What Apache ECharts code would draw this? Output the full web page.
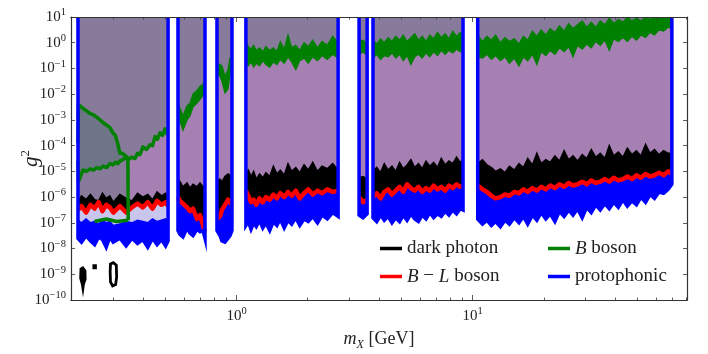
<!DOCTYPE html>
<html>
<head>
<meta charset="utf-8">
<script src="https://cdn.jsdelivr.net/npm/echarts@6/dist/echarts.min.js"></script>
<style>
html, body { margin: 0; padding: 0; background: #fff; }
#chart { width: 708px; height: 354px; }
</style>
</head>
<body>
<div id="chart"></div>
<script>
// mass windows (GeV) where the search gives limits
var windows = [[0.2126, 0.512], [0.564, 0.734], [0.825, 0.955], [1.094, 2.69], [3.30, 3.57], [3.78, 9.1], [10.5, 69.8]]

// sample masses per window (GeV)
var massGrid = [
  [0.2126, 0.22, 0.23, 0.24, 0.25, 0.26, 0.27, 0.28, 0.29, 0.30, 0.32, 0.34, 0.36, 0.38, 0.40, 0.42, 0.44, 0.46, 0.48, 0.50, 0.512],
  [0.564, 0.575, 0.592, 0.616, 0.634, 0.653, 0.679, 0.699, 0.72, 0.734],
  [0.825, 0.85, 0.866, 0.892, 0.919, 0.937, 0.955],
  [1.094, 1.12, 1.15, 1.18, 1.21, 1.25, 1.29, 1.33, 1.38, 1.43, 1.48, 1.53, 1.59, 1.65, 1.71, 1.78, 1.85, 1.93, 2.01, 2.1, 2.2, 2.3, 2.42, 2.55, 2.69],
  [3.30, 3.43, 3.57],
  [3.78, 3.92, 4.07, 4.22, 4.38, 4.55, 4.72, 4.9, 5.08, 5.27, 5.47, 5.68, 5.89, 6.11, 6.34, 6.58, 6.83, 7.09, 7.36, 7.64, 7.93, 8.23, 8.54, 8.85, 9.1],
  [10.5, 11.0, 11.5, 12.0, 12.5, 13.1, 13.7, 14.3, 15.0, 15.7, 16.4, 17.1, 17.9, 18.7, 19.5, 20.4, 21.3, 22.3, 23.3, 24.4, 25.5, 26.6, 27.8, 29.1, 30.4, 31.8, 33.2, 34.7, 36.3, 37.9, 39.6, 41.4, 43.3, 45.2, 47.3, 49.4, 51.6, 54.0, 56.4, 58.9, 61.6, 64.4, 67.3, 69.8]
]

// log10(g^2) limits
var darkPhotonTop = [
  [-6.15, -5.95, -6.1, -5.9, -6.1, -6.15, -5.85, -6.05, -5.95, -6.2, -5.9, -6.05, -6.15, -5.85, -6.0, -5.9, -6.1, -5.8, -5.95, -5.85, -6.0],
  [-5.55, -5.4, -5.6, -5.45, -5.65, -5.5, -5.6, -5.45, -5.6, -5.55],
  [-5.35, -5.3, -5.4, -5.2, -5.1, -5.15, -5.2],
  [-5.1, -4.95, -5.2, -5.0, -5.3, -5.1, -5.25, -5.05, -5.2, -4.8, -5.1, -4.95, -5.15, -4.7, -5.0, -4.85, -5.05, -4.75, -4.95, -4.65, -5.0, -4.8, -4.9, -4.7, -4.95],
  [-5.25, -5.2, -5.3],
  [-5.0, -4.85, -5.05, -4.7, -4.95, -4.8, -5.0, -4.65, -4.9, -4.75, -4.55, -4.85, -4.7, -4.9, -4.6, -4.8, -4.65, -4.85, -4.5, -4.75, -4.6, -4.7, -4.45, -4.65, -4.55],
  [-4.7, -4.55, -4.75, -4.85, -5.0, -4.9, -5.05, -4.8, -4.95, -4.7, -4.85, -4.5, -4.75, -4.3, -4.7, -4.55, -4.65, -4.4, -4.6, -4.2, -4.55, -4.4, -4.6, -4.35, -4.5, -4.15, -4.45, -4.3, -4.5, -4.0, -4.4, -4.25, -4.45, -4.1, -4.35, -4.2, -4.4, -3.95, -4.3, -4.15, -4.35, -4.2, -4.3, -4.3]
]
var bMinusL = [
  [-6.5, -6.35, -6.6, -6.3, -6.45, -6.2, -6.55, -6.3, -6.4, -6.6, -6.35, -6.6, -6.4, -6.25, -6.4, -6.2, -6.45, -6.15, -6.3, -6.2, -6.35],
  [-6.0, -6.15, -6.25, -6.4, -6.55, -6.45, -6.85, -6.7, -7.1, -7.35],
  [-6.85, -6.75, -6.5, -6.3, -6.1, -6.2, -6.3],
  [-5.75, -5.95, -6.2, -6.1, -6.3, -6.05, -6.2, -6.0, -6.1, -5.9, -6.05, -5.85, -6.0, -5.8, -5.95, -5.75, -6.05, -5.85, -5.7, -5.9, -5.75, -5.85, -5.7, -5.8, -5.75],
  [-6.0, -6.2, -6.1],
  [-6.0, -5.85, -6.05, -5.8, -5.7, -5.9, -5.75, -5.6, -5.8, -5.5, -5.65, -5.75, -5.6, -5.8, -5.65, -5.75, -5.55, -5.7, -5.6, -5.75, -5.55, -5.65, -5.5, -5.6, -5.55],
  [-5.55, -5.7, -5.8, -5.95, -6.05, -6.0, -5.9, -5.95, -5.8, -5.85, -5.7, -5.8, -5.65, -5.75, -5.6, -5.7, -5.55, -5.65, -5.5, -5.6, -5.45, -5.55, -5.5, -5.4, -5.5, -5.35, -5.45, -5.4, -5.3, -5.4, -5.25, -5.35, -5.3, -5.2, -5.3, -5.15, -5.25, -5.1, -5.2, -5.15, -5.05, -5.15, -5.0, -5.1]
]
var protoBottom = [
  [-7.6, -7.75, -7.5, -7.7, -7.85, -7.55, -7.65, -7.95, -7.55, -7.75, -7.6, -7.9, -7.6, -7.8, -7.65, -7.95, -7.6, -7.85, -7.65, -7.9, -7.7],
  [-7.3, -7.45, -7.55, -7.2, -7.4, -7.5, -7.25, -7.35, -7.3, -7.6],
  [-7.3, -7.5, -7.7, -7.75, -7.6, -7.5, -7.3],
  [-7.1, -6.95, -7.25, -7.0, -7.15, -6.9, -7.2, -7.0, -7.3, -6.95, -7.1, -6.85, -7.2, -6.9, -7.05, -6.8, -7.1, -6.85, -6.95, -6.75, -7.0, -6.7, -6.85, -6.6, -6.75],
  [-6.7, -6.8, -6.65],
  [-6.8, -6.95, -6.7, -6.9, -6.75, -7.0, -6.8, -6.95, -6.7, -6.9, -6.65, -6.85, -6.95, -6.7, -6.85, -6.6, -6.8, -6.65, -6.75, -6.55, -6.7, -6.5, -6.65, -6.45, -6.5],
  [-6.85, -7.05, -6.9, -7.1, -6.95, -7.15, -6.9, -7.05, -6.8, -7.0, -6.75, -7.05, -6.7, -6.9, -6.6, -6.85, -6.65, -6.95, -6.55, -6.75, -6.5, -6.7, -6.45, -6.8, -6.4, -6.6, -6.3, -6.5, -6.25, -6.45, -6.2, -6.4, -6.1, -6.35, -6.15, -6.3, -6.0, -6.2, -5.9, -6.05, -5.8, -5.85, -5.7, -5.5]
]
// upper edge of the protophonic band in the first window (elsewhere it sits under the B-L line)
var protoTopSeg1 = [-6.9, -7.0, -6.85, -7.0, -6.95, -7.05, -6.9, -7.0, -6.95, -7.1, -7.05, -6.95, -7.0, -6.9, -6.95, -7.0, -6.85, -6.95, -6.9, -6.85, -6.95]
var protoTop = [protoTopSeg1, null, null, null, null, null, null]

// B boson band, upper and lower edge (first window drawn from the contour below)
var bBosonHigh = [
  null,
  [-2.4, -2.55, -2.85, -2.45, -2.35, -2.0, -1.85, -1.7, -1.6, -1.55],
  [-0.8, -0.85, -0.9, -1.3, -1.05, -0.6, -0.6],
  [0.1, -0.15, -0.25, -0.1, -0.3, -0.2, -0.35, -0.15, -0.3, -0.2, -0.35, 0.05, -0.25, 0.3, -0.2, -0.1, -0.3, 0.0, -0.15, 0.1, -0.2, 0.05, -0.1, 0.25, 0.0],
  [0.05, 0.1, -0.05],
  [0.1, -0.05, 0.15, 0.0, 0.2, 0.05, 0.25, 0.1, 0.3, 0.05, 0.2, 0.35, 0.1, 0.25, 0.05, 0.3, 0.15, 0.4, 0.2, 0.35, 0.15, 0.45, 0.25, 0.4, 0.3],
  [0.3, 0.05, 0.25, 0.1, 0.3, 0.0, 0.2, 0.05, 0.15, -0.05, 0.25, 0.1, 0.45, 0.25, 0.5, 0.3, 0.55, 0.4, 0.65, 0.45, 0.75, 0.55, 0.7, 0.85, 0.6, 0.8, 0.6, 0.85, 0.7, 0.95, 0.75, 0.9, 0.8, 1.0, 0.85, 0.95, 0.85, 1.0, 0.9, 1.0, 0.95, 1.0, 1.0, 1.0]
]
var bBosonLow = [
  null,
  [-2.95, -3.05, -3.4, -3.0, -2.85, -2.5, -2.35, -2.2, -2.05, -2.05],
  [-1.15, -1.3, -1.5, -1.95, -1.8, -1.2, -1.0],
  [-0.8, -0.9, -0.75, -0.95, -0.8, -0.9, -0.7, -0.85, -0.95, -0.75, -0.85, -0.65, -0.8, -0.55, -0.75, -1.05, -0.7, -0.6, -0.8, -0.55, -0.7, -0.5, -0.65, -0.45, -0.6],
  [-0.45, -0.35, -0.5],
  [-0.6, -0.45, -0.65, -0.5, -0.55, -0.4, -0.6, -0.45, -0.7, -0.5, -0.85, -0.55, -0.45, -0.6, -0.4, -0.55, -0.35, -0.5, -0.3, -0.45, -0.3, -0.4, -0.25, -0.35, -0.3],
  [-0.55, -0.6, -0.45, -0.65, -0.5, -0.7, -0.55, -0.8, -0.6, -0.9, -0.55, -0.7, -0.45, -0.85, -0.35, -0.5, -0.3, -0.45, -0.2, -0.35, -0.15, -0.55, -0.1, -0.25, -0.05, -0.2, 0.05, -0.1, 0.1, -0.3, 0.15, 0.05, 0.2, 0.05, 0.25, 0.1, 0.3, 0.2, 0.4, 0.3, 0.5, 0.45, 0.6, 0.55]
]
// B boson contour in the first window: [mass GeV, log10 g^2]
var bBosonSeg1Upper = [[0.2126, -3.9], [0.2135, -2.4], [0.2233, -2.55], [0.231, -2.65], [0.239, -2.75], [0.247, -2.8], [0.256, -2.9], [0.2714, -3.1], [0.2904, -3.3], [0.299, -3.5], [0.306, -3.6], [0.314, -3.95], [0.320, -4.3], [0.328, -4.3], [0.336, -4.38], [0.346, -4.48]]
var bBosonSeg1Lower = [[0.2126, -4.6], [0.2135, -5.4], [0.2233, -4.95], [0.231, -5.0], [0.239, -4.9], [0.247, -4.95], [0.256, -4.85], [0.264, -4.9], [0.2714, -4.8], [0.281, -4.85], [0.2904, -4.7], [0.299, -4.75], [0.306, -4.65], [0.314, -4.7], [0.320, -4.6], [0.336, -4.5], [0.346, -4.44]]
var bBosonSeg1Rise = [[0.346, -4.56], [0.358, -4.45], [0.371, -4.5], [0.38, -4.3], [0.389, -4.35], [0.401, -4.05], [0.415, -4.15], [0.429, -3.97], [0.44, -4.0], [0.451, -3.65], [0.462, -3.75], [0.473, -3.5], [0.485, -3.6], [0.497, -3.35], [0.507, -3.55], [0.512, -3.45]]
var bBosonSeg1Drop = [[0.346, -4.44], [0.347, -6.9]]
var bBosonSeg1Floor = [[0.25, -6.95], [0.28, -6.85], [0.31, -6.95], [0.347, -6.9]]

// small closed dark photon regions near 1e-9
var darkPhotonIslands = [
  [[0.2175, -8.78], [0.2232, -8.72], [0.229, -8.85], [0.2295, -9.2], [0.2255, -9.4], [0.2232, -9.7], [0.2205, -9.4], [0.2168, -9.15]],
  [[0.2466, -8.64], [0.2537, -8.64], [0.2537, -8.78], [0.2466, -8.78]],
  [[0.292, -8.6], [0.300, -8.55], [0.309, -8.65], [0.310, -9.1], [0.307, -9.4], [0.298, -9.45], [0.292, -9.3], [0.291, -8.9]]
]

var majorTickMass = [1, 10]
var minorTickMass = [0.2, 0.3, 0.4, 0.5, 0.6, 0.7, 0.8, 0.9, 2, 3, 4, 5, 6, 7, 8, 9, 20, 30, 40, 50, 60, 70, 80]
var legendNames = ['dark photon', 'B \u2212 L boson', 'B boson', 'protophonic']
var legendColors = ['#000000', '#ff0000', '#008000', '#0000ff']

var GRAY = '#877a9a'
var PURPLE = '#a67fb3'
var ISLAND = '#6d7586'
var LAVENDER = '#c9c6ee'
var FONT = 'Liberation Serif'

var lg = Math.log10
var xMin = lg(0.1986)
var xMax = lg(80.9)

function toXY(masses, vals) {
  return masses.map(function (m, k) { return [lg(m), vals[k]] })
}
function pairs(list) {
  return list.map(function (p) { return [lg(p[0]), p[1]] })
}
function shape(api, kind, points, style) {
  return {
    type: kind,
    shape: { points: points.map(function (p) { return api.coord(p) }) },
    style: style
  }
}
function layer(build, z) {
  return {
    type: 'custom',
    silent: true,
    clip: true,
    z: z,
    data: windows.map(function (w) { return [lg(w[0]), 0] }),
    renderItem: function (params, api) {
      return { type: 'group', children: build(params.dataIndex, api) }
    }
  }
}
function topEdge(i) {
  return [lg(windows[i][0]), 1]
}
function endEdge(i) {
  return [lg(windows[i][1]), 1]
}

var series = [
  // everything above the dark photon limit
  layer(function (i, api) {
    var pts = [topEdge(i)].concat(toXY(massGrid[i], darkPhotonTop[i]), [endEdge(i)])
    return [shape(api, 'polygon', pts, { fill: PURPLE })]
  }, 1),
  // overlap with the B boson region
  layer(function (i, api) {
    var pts
    if (i === 0) {
      pts = [topEdge(0), [lg(windows[0][0]), -6.9], [lg(0.346), -6.9]].concat(pairs(bBosonSeg1Rise), [endEdge(0)])
    } else {
      pts = [topEdge(i)].concat(toXY(massGrid[i], bBosonHigh[i]), [endEdge(i)])
    }
    return [shape(api, 'polygon', pts, { fill: GRAY })]
  }, 2),
  layer(function (i, api) {
    if (i !== 0) return []
    var pts = pairs(bBosonSeg1Upper).concat(pairs(bBosonSeg1Lower).reverse())
    return [shape(api, 'polygon', pts, { fill: ISLAND })]
  }, 3),
  // gap between B-L and protophonic
  layer(function (i, api) {
    if (!protoTop[i]) return []
    var pts = toXY(massGrid[i], bMinusL[i]).concat(toXY(massGrid[i], protoTop[i]).reverse())
    return [shape(api, 'polygon', pts, { fill: LAVENDER })]
  }, 4),
  // dark photon band
  layer(function (i, api) {
    var pts = toXY(massGrid[i], darkPhotonTop[i]).concat(toXY(massGrid[i], bMinusL[i]).reverse())
    return [shape(api, 'polygon', pts, { fill: '#000', stroke: '#000', lineWidth: 1.5 })]
  }, 5),
  // protophonic band
  layer(function (i, api) {
    var top = protoTop[i] || bMinusL[i]
    var pts = toXY(massGrid[i], top).concat(toXY(massGrid[i], protoBottom[i]).reverse())
    return [shape(api, 'polygon', pts, { fill: '#0000ff', stroke: '#0000ff', lineWidth: 1.5 })]
  }, 6),
  // B-L line
  layer(function (i, api) {
    return [shape(api, 'polyline', toXY(massGrid[i], bMinusL[i]), { stroke: '#ff0000', lineWidth: 4.5, fill: null, lineJoin: 'round' })]
  }, 7),
  // B boson band / contour
  layer(function (i, api) {
    var st = { stroke: '#008000', lineWidth: 3.5, fill: null, lineJoin: 'round' }
    if (i === 0) {
      return [bBosonSeg1Upper, bBosonSeg1Lower, bBosonSeg1Rise, bBosonSeg1Drop, bBosonSeg1Floor].map(function (p) {
        return shape(api, 'polyline', pairs(p), st)
      })
    }
    var pts = toXY(massGrid[i], bBosonHigh[i]).concat(toXY(massGrid[i], bBosonLow[i]).reverse())
    return [shape(api, 'polygon', pts, { fill: '#008000', stroke: '#008000', lineWidth: 1.2 })]
  }, 8),
  // protophonic outline running up to the top at each window edge
  layer(function (i, api) {
    var pts = [topEdge(i)].concat(toXY(massGrid[i], protoBottom[i]), [endEdge(i)])
    return [shape(api, 'polyline', pts, { stroke: '#0000ff', lineWidth: 3.5, fill: null })]
  }, 9),
  {
    type: 'custom',
    silent: true,
    clip: true,
    z: 9,
    data: darkPhotonIslands.map(function (p) { return [lg(p[0][0]), p[0][1]] }),
    renderItem: function (params, api) {
      var k = params.dataIndex
      var st = k === 2 ? { fill: null, stroke: '#000', lineWidth: 2.8 } : { fill: '#000', stroke: '#000', lineWidth: 1.5 }
      return shape(api, 'polygon', pairs(darkPhotonIslands[k]), st)
    }
  }
]
legendNames.forEach(function (n, k) {
  series.push({ type: 'line', name: n, data: [], itemStyle: { color: legendColors[k] }, lineStyle: { color: legendColors[k] } })
})

var supRich = {
  b: { fontFamily: FONT, fontSize: 15, color: '#222', lineHeight: 20 },
  s: { fontFamily: FONT, fontSize: 10.5, color: '#222', verticalAlign: 'top', lineHeight: 12 }
}
function powLabel(v) {
  var n = Math.round(v)
  return '{b|10}{s|' + (n < 0 ? '\u2212' + (-n) : n) + '}'
}

function xAxisDef(pos, values, len, labels) {
  return {
    type: 'value', min: xMin, max: xMax, position: pos, z: 10,
    axisLine: { show: true, onZero: false, lineStyle: { color: '#333', width: 1.2 } },
    splitLine: { show: false },
    axisTick: { show: true, inside: true, length: len, customValues: values, lineStyle: { color: '#333', width: 0.8 } },
    axisLabel: labels ? { show: true, customValues: values, formatter: powLabel, rich: supRich, margin: 6 } : { show: false }
  }
}

var xAxes = [
  xAxisDef('bottom', majorTickMass.map(lg), 5, true),
  xAxisDef('bottom', minorTickMass.map(lg), 2.5, false),
  xAxisDef('top', majorTickMass.map(lg), 5, false),
  xAxisDef('top', minorTickMass.map(lg), 2.5, false)
]
xAxes[0].name = '{i|m}{sub|X} [GeV]'
xAxes[0].nameLocation = 'middle'
xAxes[0].nameGap = 19
xAxes[0].nameTextStyle = {
  fontFamily: FONT, fontSize: 18, color: '#222', lineHeight: 22,
  rich: {
    i: { fontFamily: FONT, fontSize: 18, fontStyle: 'italic', color: '#222', lineHeight: 22 },
    sub: { fontFamily: FONT, fontSize: 12, fontStyle: 'italic', color: '#222', verticalAlign: 'bottom', lineHeight: 12 }
  }
}

function yAxisDef(pos, labels) {
  return {
    type: 'value', min: -10, max: 1, interval: 1, position: pos, z: 10,
    axisLine: { show: true, onZero: false, lineStyle: { color: '#333', width: 1.2 } },
    splitLine: { show: false },
    axisTick: { show: true, inside: true, length: 4, lineStyle: { color: '#333', width: 0.8 } },
    axisLabel: labels ? { show: true, formatter: powLabel, rich: supRich, margin: 5 } : { show: false }
  }
}
var yAxes = [yAxisDef('left', true), yAxisDef('right', false)]
yAxes[0].name = '{i|g}{s|2}'
yAxes[0].nameLocation = 'middle'
yAxes[0].nameRotate = 90
yAxes[0].nameGap = 28
yAxes[0].nameMoveOverlap = false
yAxes[0].nameTextStyle = {
  rich: {
    i: { fontFamily: FONT, fontSize: 21, fontStyle: 'italic', color: '#222', lineHeight: 24 },
    s: { fontFamily: FONT, fontSize: 13, color: '#222', verticalAlign: 'top', lineHeight: 14 }
  }
}

var legendRich = { i: { fontFamily: FONT, fontSize: 19, fontStyle: 'italic', color: '#222' } }
function legendText(name) {
  if (name === 'B boson') return '{i|B} boson'
  if (name === 'B \u2212 L boson') return '{i|B} \u2212 {i|L} boson'
  return name
}
function legendDef(left, names) {
  return {
    orient: 'vertical', left: left, top: 234, itemGap: 9,
    icon: 'rect', itemWidth: 22, itemHeight: 3.5,
    data: names, formatter: legendText, selectedMode: false,
    textStyle: { fontFamily: FONT, fontSize: 19, color: '#222', lineHeight: 18, rich: legendRich }
  }
}

var chart = echarts.init(document.getElementById('chart'), null, { renderer: 'canvas' })
chart.setOption({
  animation: false,
  backgroundColor: '#fff',
  grid: { left: 71, right: 21, top: 17, bottom: 54, outerBoundsMode: 'none' },
  xAxis: xAxes,
  yAxis: yAxes,
  legend: [legendDef(375, [legendNames[0], legendNames[1]]), legendDef(543, [legendNames[2], legendNames[3]])],
  series: series
})
</script>
</body>
</html>
